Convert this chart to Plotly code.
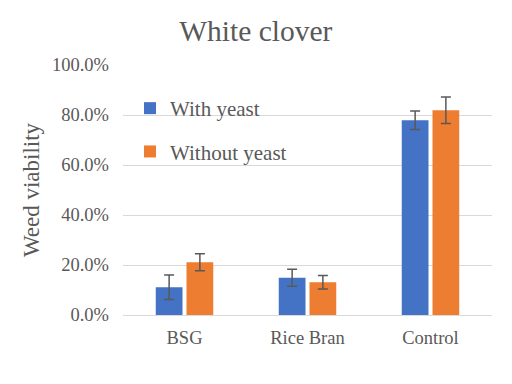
import plotly.graph_objects as go

categories = ["BSG", "Rice Bran", "Control"]
with_yeast = [0.111, 0.149, 0.779]
with_yeast_err = [0.049, 0.034, 0.037]
without_yeast = [0.211, 0.131, 0.819]
without_yeast_err = [0.034, 0.027, 0.053]
tick_vals = [0, 0.2, 0.4, 0.6, 0.8, 1.0]

FF = "Liberation Serif"
err_color = "#595959"

fig = go.Figure()
fig.add_trace(go.Bar(
    x=categories, y=with_yeast, name="With yeast", legendgroup="a",
    marker_color="#4472C4",
    error_y=dict(type="data", array=with_yeast_err, color=err_color, thickness=1.5, width=5),
))
fig.add_trace(go.Bar(
    x=categories, y=without_yeast, name="Without yeast", legendgroup="b",
    marker_color="#ED7D31",
    error_y=dict(type="data", array=without_yeast_err, color=err_color, thickness=1.5, width=5),
))

fig.update_layout(
    template="none",
    width=512, height=384,
    margin=dict(l=115, r=28, t=57, b=77, autoexpand=False),
    paper_bgcolor="white", plot_bgcolor="white",
    barmode="group", bargap=0.5, bargroupgap=0.13,
    font=dict(family=FF, color="#595959", size=18),
    title=dict(text="White clover", x=0.484, xanchor="center", y=0.94, yanchor="middle",
               font=dict(size=29.5, color="#595959", family=FF)),
    showlegend=True,
    legend=dict(x=0.019, y=0.908, xanchor="left", yanchor="top",
                bgcolor="rgba(0,0,0,0)", traceorder="grouped", tracegroupgap=13,
                font=dict(size=21, color="#595959", family=FF)),
    xaxis=dict(showline=True, linecolor="#d9d9d9", linewidth=1, ticks="",
               ticklabelstandoff=6, showgrid=False,
               tickfont=dict(size=18.5, color="#595959", family=FF)),
    yaxis=dict(range=[0, 1.0], tickvals=tick_vals, tickformat=".1%",
               showgrid=True, gridcolor="#d9d9d9", gridwidth=1, zeroline=False,
               ticks="", ticklabelstandoff=13, showline=False,
               title=dict(text="Weed viability", font=dict(size=23, color="#595959", family=FF), standoff=5),
               tickfont=dict(size=18.5, color="#595959", family=FF)),
)

fig.write_html("out.html")
